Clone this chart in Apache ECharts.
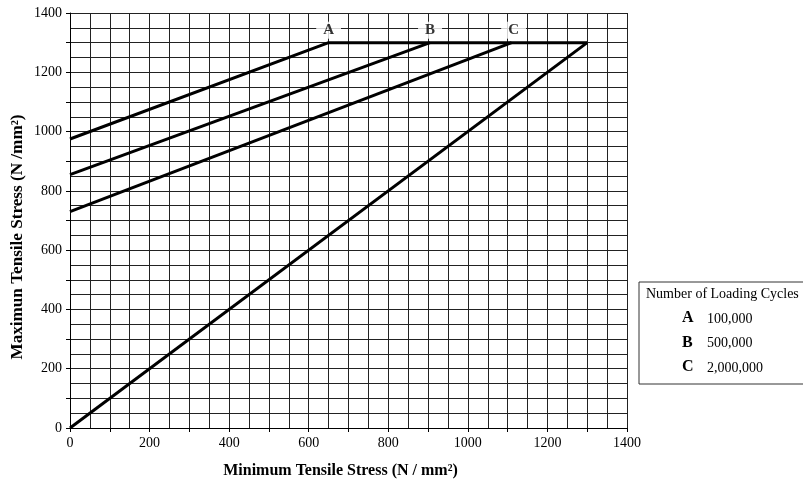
<!DOCTYPE html>
<html>
<head>
<meta charset="utf-8">
<script src="https://cdn.jsdelivr.net/npm/echarts@6/dist/echarts.min.js"></script>
<style>
  html, body { margin: 0; padding: 0; background: #fff; }
  #chart { width: 803px; height: 484px; }
</style>
</head>
<body>
<div id="chart"></div>
<script>
// curves: [min stress, max stress]
const curveA = [[0, 975], [650, 1300], [1300, 1300]]
const curveB = [[0, 855], [905, 1300]]
const curveC = [[0, 730], [1110, 1300]]
const curveDiag = [[0, 0], [1300, 1300]]
// letter tags above the ends of the sloping lines
const tags = [[650, 1342, 'A'], [905, 1342, 'B'], [1115, 1342, 'C']]
const legendRows = [['A', '100,000'], ['B', '500,000'], ['C', '2,000,000']]

const serif = '"Liberation Serif", "DejaVu Serif", serif'
const yName = 'Maximun Tensile Stress (N /mm²)'
const chart = echarts.init(document.getElementById('chart'))

// the y title in the picture is a bit wider than the font gives, stretch it to fit
const ctx = document.createElement('canvas').getContext('2d')
ctx.font = 'bold 16px ' + serif
const yNameStretch = 245 / ctx.measureText(yName).width

function axis (isY) {
  return {
    type: 'value',
    min: 0,
    max: 1400,
    interval: 100,
    axisLine: { show: true, lineStyle: { color: '#000', width: 1 } },
    axisTick: { show: true, length: 4, lineStyle: { color: '#000' } },
    axisLabel: {
      fontFamily: serif, fontSize: 14, color: '#000', margin: 8,
      formatter: v => (v % 200 === 0 ? String(v) : '')
    },
    splitLine: { show: true, lineStyle: { color: '#222', width: 1 } },
    minorTick: { show: false, splitNumber: 2 },
    minorSplitLine: { show: true, lineStyle: { color: '#222', width: 1 } }
  }
}

function curve (data) {
  return {
    type: 'line',
    data: data,
    symbol: 'none',
    lineStyle: { color: '#000', width: 3 },
    z: 5
  }
}

const xAxisOpt = axis(false)
xAxisOpt.name = 'Minimum Tensile Stress (N / mm²)'
xAxisOpt.nameLocation = 'middle'
xAxisOpt.nameGap = 35
xAxisOpt.nameTextStyle = {
  fontFamily: serif, fontSize: 16, fontWeight: 'bold', color: '#000',
  padding: [0, 16, 0, 0]
}

const legendTexts = [{
  type: 'text', left: 646, top: 287,
  style: { text: 'Number of Loading Cycles', font: '14px ' + serif, fill: '#000' }
}]
legendRows.forEach((r, i) => {
  legendTexts.push({
    type: 'text', left: 682, top: 310 + i * 24.5,
    style: { text: r[0], font: 'bold 16px ' + serif, fill: '#000' }
  })
  legendTexts.push({
    type: 'text', left: 707, top: 312 + i * 24.5,
    style: { text: r[1], font: '14px ' + serif, fill: '#000' }
  })
})

chart.setOption({
  animation: false,
  backgroundColor: '#fff',
  grid: { left: 70, right: 176, top: 13, bottom: 54 },
  xAxis: xAxisOpt,
  yAxis: axis(true),
  series: [
    curve(curveA),
    curve(curveB),
    curve(curveC),
    curve(curveDiag),
    {
      type: 'scatter',
      data: tags,
      symbolSize: 0,
      z: 6,
      label: {
        show: true,
        position: 'inside',
        formatter: p => p.value[2],
        fontFamily: serif,
        fontSize: 15,
        fontWeight: 'bold',
        color: '#000',
        backgroundColor: '#fff',
        padding: [1, 7]
      }
    }
  ],
  graphic: [{
    type: 'text',
    x: 18,
    y: 237,
    rotation: Math.PI / 2,
    scaleX: yNameStretch,
    style: {
      text: yName,
      font: 'bold 16px ' + serif,
      fill: '#000',
      align: 'center',
      verticalAlign: 'middle'
    }
  }, {
    type: 'rect',
    shape: { x: 639, y: 282, width: 170, height: 102 },
    style: { fill: '#fff', stroke: '#333', lineWidth: 1 }
  }].concat(legendTexts)
})
</script>
</body>
</html>
